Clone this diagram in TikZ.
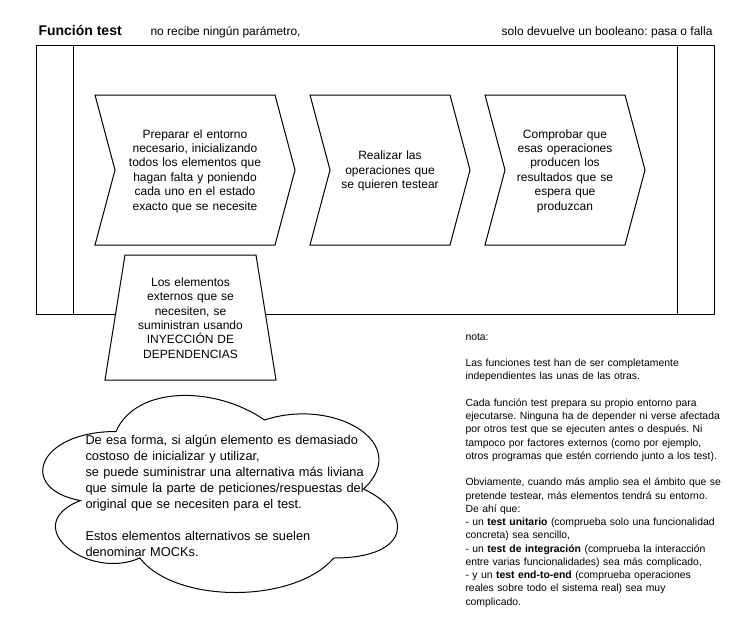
\documentclass[tikz,border=0pt]{standalone}
\usepackage{fontspec}
\setmainfont{Liberation Sans}
\frenchspacing
\begin{document}
\begin{tikzpicture}[x=1pt,y=-1pt,line width=1pt,
  shapeline/.style={draw=black,fill=white,line join=miter},
  boxtext/.style={inner sep=0pt,align=center,font=\fontsize{12pt}{14.4pt}\selectfont},
  headtext/.style={inner sep=0pt,anchor=base west,font=\fontsize{12pt}{14.4pt}\selectfont}]
\useasboundingbox[fill=white] (0,0) rectangle (731,630);

% header
\node[headtext,font=\fontsize{14pt}{16pt}\selectfont\bfseries] (title) at (38,35) {Función test};
\node[headtext] (nopar) at (150,35) {no recibe ningún parámetro,};
\node[headtext,anchor=base east] (bool) at (713,35) {solo devuelve un booleano: pasa o falla};

% main frame
\draw[shapeline] (36,45) rectangle (714,314);
\draw (73,45) -- (73,314);
\draw (677,45) -- (677,314);

% chevrons
\draw[shapeline] (95,95) -- (275,95) -- (295,170) -- (275,245) -- (95,245) -- (115,170) -- cycle;
\draw[shapeline] (310,95) -- (450,95) -- (470,170) -- (450,245) -- (310,245) -- (330,170) -- cycle;
\draw[shapeline] (485,95) -- (625,95) -- (645,170) -- (625,245) -- (485,245) -- (505,170) -- cycle;
\node[boxtext,text width=170pt] (prep) at (195,171) {Preparar el entorno\\necesario, inicializando\\todos los elementos que\\hagan falta y poniendo\\cada uno en el estado\\exacto que se necesite};
\node[boxtext,text width=130pt] (real) at (390,171) {Realizar las\\operaciones que\\se quieren testear};
\node[boxtext,text width=130pt] (comp) at (565,171) {Comprobar que\\esas operaciones\\producen los\\resultados que se\\espera que\\produzcan};

% trapezoid
\draw[shapeline] (125,255) -- (256,255) -- (276,380) -- (105,380) -- cycle;
\node[boxtext,text width=140pt] (inyec) at (190.5,318) {Los elementos\\externos que se\\necesiten, se\\suministran usando\\INYECCIÓN DE\\DEPENDENCIAS};

% cloud (x0=17, y0=374, w=396, h=230)
\draw[shapeline] (116,431.5)
  .. controls (36.8,431.5) and (17,489) .. (80.36,500.5)
  .. controls (17,525.8) and (88.28,581) .. (139.76,558)
  .. controls (175.4,604) and (294.2,604) .. (333.8,558)
  .. controls (413,558) and (413,512) .. (363.5,489)
  .. controls (413,443) and (333.8,397) .. (264.5,420)
  .. controls (215,385.5) and (135.8,385.5) .. (116,431.5) -- cycle;
\node[inner sep=0pt,anchor=base west,align=left,text width=330pt,font=\fontsize{12.8pt}{16pt}\selectfont] (mock) at (85,444)
  {De esa forma, si algún elemento es demasiado\\costoso de inicializar y utilizar,\\se puede suministrar una alternativa más liviana\\que simule la parte de peticiones/respuestas del\\original que se necesiten para el test.\\[16pt]Estos elementos alternativos se suelen\\denominar MOCKs.};

% note
\node[inner sep=0pt,anchor=base west,align=left,text width=320pt,font=\fontsize{10.4pt}{13.25pt}\selectfont] (nota) at (465,340)
  {nota:\\[13.25pt]Las funciones test han de ser completamente\\independientes las unas de las otras.\\[13.25pt]Cada función test prepara su propio entorno para\\ejecutarse. Ninguna ha de depender ni verse afectada\\por otros test que se ejecuten antes o después. Ni\\tampoco por factores externos (como por ejemplo,\\otros programas que estén corriendo junto a los test).\\[13.25pt]Obviamente, cuando más amplio sea el ámbito que se\\pretende testear, más elementos tendrá su entorno.\\De ahí que:\\- un \textbf{test unitario} (comprueba solo una funcionalidad\\concreta) sea sencillo,\\- un \textbf{test de integración} (comprueba la interacción\\entre varias funcionalidades) sea más complicado,\\- y un \textbf{test end-to-end} (comprueba operaciones\\reales sobre todo el sistema real) sea muy\\complicado.};
\end{tikzpicture}
\end{document}
